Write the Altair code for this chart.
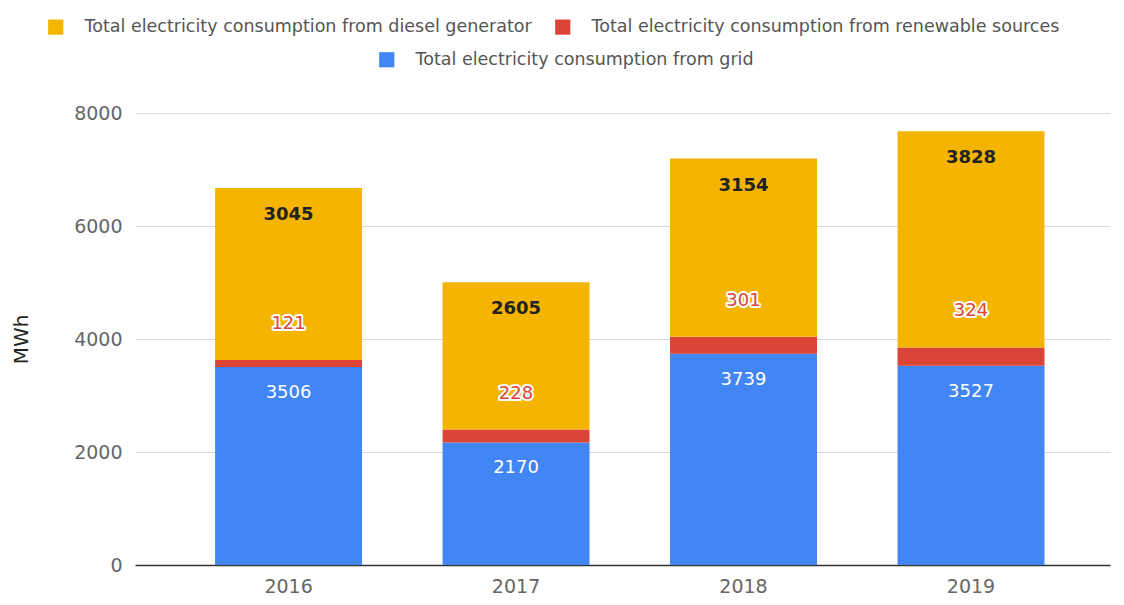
import altair as alt
import pandas as pd

years = ["2016", "2017", "2018", "2019"]
grid_vals = [3506, 2170, 3739, 3527]
renew_vals = [121, 228, 301, 324]
diesel_vals = [3045, 2605, 3154, 3828]

S_DIESEL = "Total electricity consumption from diesel generator"
S_RENEW = "Total electricity consumption from renewable sources"
S_GRID = "Total electricity consumption from grid"

BLUE = "#4285F4"
RED = "#DB4437"
YELLOW = "#F4B400"
FONT = "DejaVu Sans"

rows = []
for i, yr in enumerate(years):
    rows.append({"year": yr, "series": S_GRID, "order": 0, "value": grid_vals[i]})
    rows.append({"year": yr, "series": S_RENEW, "order": 1, "value": renew_vals[i]})
    rows.append({"year": yr, "series": S_DIESEL, "order": 2, "value": diesel_vals[i]})
df = pd.DataFrame(rows)

base = alt.Chart(df).transform_stack(
    stack="value", groupby=["year"],
    sort=[alt.SortField(field="order", order="ascending")],
    as_=["y0", "y1"],
)

x_enc = alt.X("year:N", sort=years,
              scale=alt.Scale(paddingInner=0.354, paddingOuter=0.32, align=0.55),
              axis=alt.Axis(title=None, labelAngle=0, ticks=False, domain=True,
                            domainColor="#333333", domainWidth=1.5, labelPadding=12,
                            grid=False))
y_axis = alt.Axis(title="MWh", values=[0, 2000, 4000, 6000, 8000], format="d",
                  grid=True, gridColor="#d9d9d9", domain=False, ticks=False,
                  labelPadding=13, titlePadding=42)
y_scale = alt.Scale(domain=[0, 8000], nice=False)

grid_bars = base.transform_filter(alt.datum.series == S_GRID).mark_bar().encode(
    x=x_enc,
    y=alt.Y("y0:Q", scale=y_scale, axis=y_axis),
    y2="y1:Q",
    color=alt.Color("series:N",
                    scale=alt.Scale(domain=[S_GRID], range=[BLUE]),
                    legend=alt.Legend(orient="none", legendX=243, legendY=-62,
                                      title=None, direction="horizontal")),
)

other_bars = base.transform_filter(alt.datum.series != S_GRID).mark_bar().encode(
    x=x_enc,
    y=alt.Y("y0:Q", scale=y_scale, axis=y_axis),
    y2="y1:Q",
    color=alt.Color("series:N",
                    scale=alt.Scale(domain=[S_DIESEL, S_RENEW], range=[YELLOW, RED]),
                    legend=alt.Legend(orient="none", legendX=-88, legendY=-95,
                                      title=None, direction="horizontal")),
)

grid_text = base.transform_filter(alt.datum.series == S_GRID).mark_text(
    dy=26, font=FONT, fontSize=18, color="white").encode(
    x=x_enc, y=alt.Y("y1:Q", scale=y_scale, axis=y_axis), text="value:Q")

renew_halo = base.transform_filter(alt.datum.series == S_RENEW).mark_text(
    dy=-36, font=FONT, fontSize=18, color="white", stroke="white",
    strokeWidth=4, strokeJoin="round").encode(
    x=x_enc, y=alt.Y("y1:Q", scale=y_scale, axis=y_axis), text="value:Q")

renew_text = base.transform_filter(alt.datum.series == S_RENEW).mark_text(
    dy=-36, font=FONT, fontSize=18, color=RED).encode(
    x=x_enc, y=alt.Y("y1:Q", scale=y_scale, axis=y_axis), text="value:Q")

diesel_text = base.transform_filter(alt.datum.series == S_DIESEL).mark_text(
    dy=27, font=FONT, fontSize=18, fontWeight="bold", color="#222222").encode(
    x=x_enc, y=alt.Y("y1:Q", scale=y_scale, axis=y_axis), text="value:Q")

chart = alt.layer(
    grid_bars, other_bars, grid_text, renew_halo, renew_text, diesel_text
).resolve_scale(color="independent").properties(
    width=975, height=452,
    autosize=alt.AutoSizeParams(type="none"),
    padding={"left": 127, "top": 105, "right": 6, "bottom": 36},
).configure_view(stroke=None).configure_axis(
    labelFont=FONT, labelFontSize=19, labelColor="#666666",
    titleFont=FONT, titleFontSize=20, titleColor="#222222",
    titleFontWeight="normal",
).configure_legend(
    labelFont=FONT, labelFontSize=17.5, labelColor="#555555",
    symbolType="square", symbolSize=230, symbolStrokeWidth=0,
    columnPadding=22, labelOffset=20, labelLimit=700,
)

chart.save("out.html", embed_options={"renderer": "svg", "actions": False})
